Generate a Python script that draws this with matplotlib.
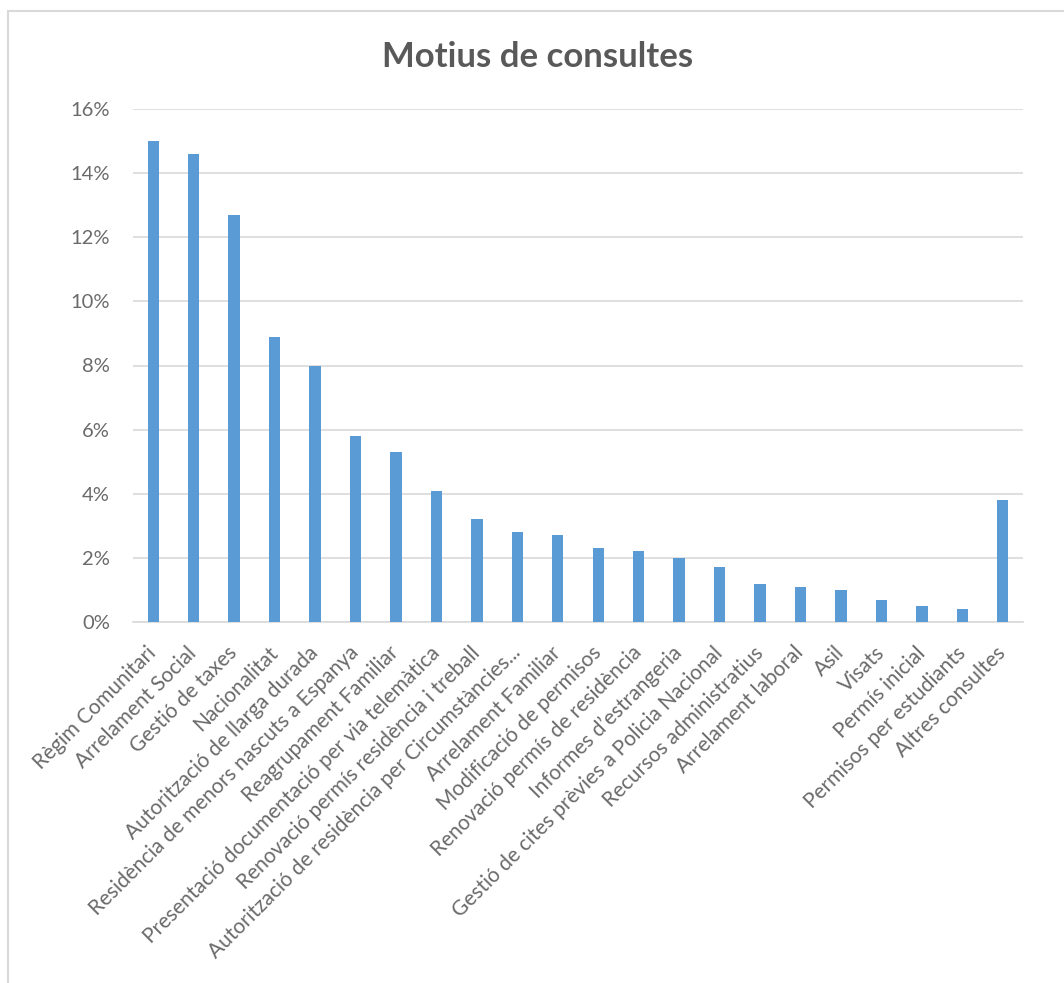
import numpy as np
import matplotlib
matplotlib.use("Agg")
import matplotlib.pyplot as plt
from matplotlib.patches import Rectangle
from matplotlib.ticker import FuncFormatter

categories = [
    "Règim Comunitari", "Arrelament Social", "Gestió de taxes", "Nacionalitat",
    "Autorització de llarga durada", "Residència de menors nascuts a Espanya",
    "Reagrupament Familiar", "Presentació documentació per via telemàtica",
    "Renovació permís residència i treball",
    "Autorització de residència per Circumstàncies...",
    "Arrelament Familiar", "Modificació de permisos", "Renovació permís de residència",
    "Informes d’estrangeria", "Gestió de cites prèvies a Policia Nacional",
    "Recursos administratius", "Arrelament laboral", "Asil", "Visats",
    "Permís inicial", "Permisos per estudiants", "Altres consultes",
]
values = [15.0, 14.6, 12.7, 8.9, 8.0, 5.8, 5.3, 4.1, 3.2, 2.8, 2.7,
          2.3, 2.2, 2.0, 1.7, 1.2, 1.1, 1.0, 0.7, 0.5, 0.4, 3.8]
yticks = [0, 2, 4, 6, 8, 10, 12, 14, 16]

plt.rcParams['font.family'] = ['Lato', 'DejaVu Sans']
grey = "#595959"

fig = plt.figure(figsize=(10.64, 9.83), dpi=100)
W, H = 1064, 983
ax = fig.add_axes([133 / W, 1 - 622 / H, 890 / W, (622 - 109) / H])

x = np.arange(len(categories))
ax.bar(x, values, width=0.28, color="#5B9BD5", zorder=3)

ax.set_xlim(-0.5, len(categories) - 0.5)
ax.set_ylim(0, 16)
ax.set_yticks(yticks)
ax.yaxis.set_major_formatter(FuncFormatter(lambda v, p: f"{v:.0f}%"))
ax.grid(axis="y", color="#d9d9d9", linewidth=1.2, zorder=0)
for s in ["top", "right", "left"]:
    ax.spines[s].set_visible(False)
ax.spines["bottom"].set_color("#d9d9d9")
ax.spines["bottom"].set_linewidth(1.2)
ax.tick_params(axis="both", length=0, colors="#6a6a6a")
ax.tick_params(axis="y", pad=16.5, labelsize=14.5)

ax.set_xticks(x)
ax.set_xticklabels(categories, rotation=45, ha="right", va="center",
                   rotation_mode="anchor", fontsize=15, color="#6a6a6a")
ax.tick_params(axis="x", pad=20)

fig.text(538 / W, 1 - 57 / H, "Motius de consultes", ha="center", va="center",
         fontsize=25, fontweight="bold", color=grey)

fig.patches.append(Rectangle((8 / W, -0.1), 1.2, 1 - 11 / H + 0.1,
                             transform=fig.transFigure, fill=False,
                             edgecolor="#d9d9d9", linewidth=1.5))

fig.savefig("out.png", dpi=100)
